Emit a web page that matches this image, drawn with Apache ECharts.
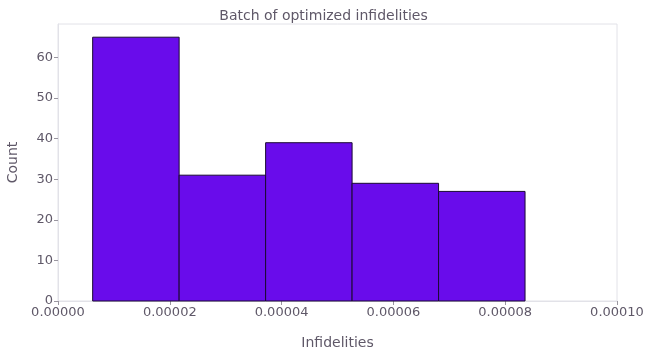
<!DOCTYPE html>
<html><head><meta charset="utf-8">
<script src="https://cdn.jsdelivr.net/npm/echarts@6/dist/echarts.min.js"></script>
<style>html,body{margin:0;padding:0;background:#fff}#c{width:647px;height:357px}</style>
</head><body><div id="c"></div>
<script>
const binEdges = [0.0000062, 0.00002167, 0.00003714, 0.00005261, 0.00006808, 0.00008355];
const counts = [65, 31, 39, 29, 27];
const xTicks = [0, 0.00002, 0.00004, 0.00006, 0.00008, 0.0001];
const yTicks = [0, 10, 20, 30, 40, 50, 60];

const data = counts.map((c, i) => [binEdges[i], binEdges[i + 1], c]);
const txt = '#5f5868';
const chart = echarts.init(document.getElementById('c'), null, {renderer: 'canvas'});
chart.setOption({
  animation: false,
  title: {text: 'Batch of optimized infidelities', left: 'center', top: 4,
    textStyle: {fontFamily: 'DejaVu Sans', fontSize: 14, fontWeight: 'normal', color: txt}},
  grid: {left: 58, right: 30, top: 24, bottom: 56, show: true, borderColor: '#e2e2e8', borderWidth: 1,
    outerBoundsMode: 'none', containLabel: false},
  xAxis: {type: 'value', min: xTicks[0], max: xTicks[xTicks.length - 1], interval: 0.00002,
    name: 'Infidelities', nameLocation: 'middle', nameGap: 35,
    nameTextStyle: {fontFamily: 'DejaVu Sans', fontSize: 14, color: txt},
    axisLine: {show: true, lineStyle: {color: '#e2e2e8'}},
    axisTick: {show: true, length: 4, lineStyle: {color: '#9a96a0'}, customValues: xTicks},
    axisLabel: {fontFamily: 'DejaVu Sans', fontSize: 13, color: txt, margin: 5,
      customValues: xTicks, formatter: v => v.toFixed(5)},
    splitLine: {show: false}},
  yAxis: {type: 'value', min: 0, max: 68.25, interval: 10,
    name: 'Count', nameLocation: 'middle', nameGap: 38,
    nameTextStyle: {fontFamily: 'DejaVu Sans', fontSize: 14, color: txt},
    axisLine: {show: true, lineStyle: {color: '#e2e2e8'}},
    axisTick: {show: true, length: 4, lineStyle: {color: '#9a96a0'}, customValues: yTicks},
    axisLabel: {fontFamily: 'DejaVu Sans', fontSize: 13, color: txt, margin: 5,
      customValues: yTicks, formatter: v => String(v)},
    splitLine: {show: false}},
  series: [{
    type: 'custom',
    data: data,
    encode: {x: [0, 1], y: 2},
    renderItem: function (params, api) {
      const p0 = api.coord([api.value(0), 0]);
      const p1 = api.coord([api.value(1), api.value(2)]);
      return {type: 'rect',
        shape: {x: p0[0], y: p1[1], width: p1[0] - p0[0], height: p0[1] - p1[1]},
        style: {fill: '#690ceb', stroke: '#1b0a33', lineWidth: 1}};
    }
  }]
});
</script></body></html>
